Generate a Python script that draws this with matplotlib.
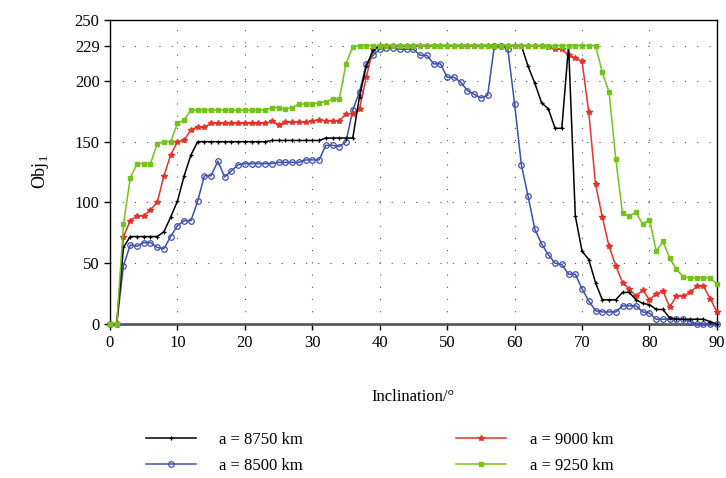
import numpy as np
import matplotlib
matplotlib.use("Agg")
from matplotlib import pyplot as plt

plt.rcParams["font.family"] = ["Liberation Serif", "DejaVu Serif"]
plt.rcParams["font.size"] = 12

incl = list(range(0, 91))

# a = 8750 km
obj_8750 = [0, 0, 63, 72, 72, 72, 72, 72, 76, 88,
            101, 122, 139, 150, 150, 150, 150, 150, 150, 150,
            150, 150, 150, 150, 151, 151, 151, 151, 151, 151,
            151, 151, 153, 153, 153, 153, 153, 187, 212, 225,
            229, 229, 229, 229, 229, 229, 229, 229, 229, 229,
            229, 229, 229, 229, 229, 229, 229, 229, 229, 229,
            229, 229, 212, 198, 182, 177, 161, 161, 229, 89,
            60, 53, 34, 20, 20, 20, 26, 26, 20, 17,
            16, 12, 12, 5, 4, 4, 4, 4, 4, 2,
            0]
# a = 8500 km
obj_8500 = [0, 0, 48, 65, 64, 67, 67, 63, 62, 72,
            81, 85, 85, 101, 122, 122, 134, 121, 126, 131,
            132, 132, 132, 132, 132, 133, 133, 133, 133, 135,
            135, 135, 147, 147, 146, 150, 176, 191, 214, 221,
            226, 227, 227, 226, 226, 226, 221, 221, 214, 214,
            203, 203, 199, 192, 189, 186, 188, 229, 229, 226,
            181, 131, 105, 78, 66, 57, 50, 49, 41, 41,
            29, 19, 11, 10, 10, 10, 15, 15, 15, 10,
            9, 4, 4, 4, 4, 4, 2, 0, 0, 0,
            0]
# a = 9000 km
obj_9000 = [0, 0, 72, 85, 89, 89, 94, 100, 122, 139,
            150, 151, 160, 162, 162, 165, 165, 165, 165, 165,
            165, 165, 165, 165, 167, 164, 166, 166, 166, 166,
            167, 168, 167, 167, 167, 173, 173, 177, 203, 226,
            229, 229, 229, 229, 229, 229, 229, 229, 229, 229,
            229, 229, 229, 229, 229, 229, 229, 229, 229, 229,
            229, 229, 229, 229, 229, 228, 226, 226, 221, 219,
            216, 174, 115, 88, 64, 48, 34, 29, 23, 28,
            20, 25, 27, 14, 23, 23, 26, 31, 31, 21,
            10]
# a = 9250 km
obj_9250 = [0, 0, 82, 120, 132, 132, 132, 148, 150, 150,
            165, 168, 176, 176, 176, 176, 176, 176, 176, 176,
            176, 176, 176, 176, 178, 178, 177, 178, 181, 181,
            181, 182, 183, 185, 185, 214, 228, 229, 229, 229,
            229, 229, 229, 229, 229, 229, 229, 229, 229, 229,
            229, 229, 229, 229, 229, 229, 229, 229, 229, 229,
            229, 229, 229, 229, 229, 229, 229, 229, 229, 229,
            229, 229, 229, 207, 191, 136, 91, 89, 92, 82,
            86, 60, 68, 54, 45, 39, 38, 38, 38, 38,
            33]

labels = ["a = 8750 km", "a = 8500 km", "a = 9000 km", "a = 9250 km"]
yticks = [0, 50, 100, 150, 200, 229, 250]
xticks = list(range(0, 91, 10))

fig = plt.figure(figsize=(7.26, 4.78), dpi=100)
ax = fig.add_axes([0.1515, 0.322, 0.836, 0.636])

l1, = ax.plot(incl, obj_8750, color="black", marker="+", markersize=3.5, lw=1.1,
              mew=0.9, label=labels[0], zorder=4, clip_on=False)
l2, = ax.plot(incl, obj_8500, color="#3f4fae", marker="o", markersize=4, lw=1.1,
              mfc="none", mew=0.9, label=labels[1], zorder=3, clip_on=False)
l3, = ax.plot(incl, obj_9000, color="#e5332a", marker="*", markersize=4, lw=1.1,
              label=labels[2], zorder=3.5, clip_on=False)
l4, = ax.plot(incl, obj_9250, color="#74c21c", marker="s", markersize=3.2, lw=1.1,
              label=labels[3], zorder=5, clip_on=False)

ax.set_xlim(0, 90)
ax.set_ylim(0, 250)
ax.set_xticks(xticks)
ax.set_yticks(yticks)
ax.tick_params(direction="out", length=4, width=1, labelsize=12)

for v in xticks[1:-1]:
    ax.axvline(v, color="#555555", lw=0.8, ls=(0, (1, 10)), zorder=1)
for v in yticks[1:-1]:
    ax.axhline(v, color="#555555", lw=0.8, ls=(0, (1, 10)), zorder=1)

for s in ["top", "right", "left"]:
    ax.spines[s].set_color("black")
    ax.spines[s].set_linewidth(1)
ax.spines["bottom"].set_color("#5a5a5a")
ax.spines["bottom"].set_linewidth(2)

ax.set_ylabel("Obj$_{\\mathregular{1}}$", fontsize=13, labelpad=17)
ax.set_xlabel("Inclination/°", fontsize=12, labelpad=28)

fig.legend(handles=[l1, l2, l3, l4], ncol=2, frameon=False, fontsize=12,
           loc="lower left", bbox_to_anchor=(0.18, -0.022),
           handlelength=3.0, handletextpad=1.4, columnspacing=9.2,
           labelspacing=0.58)

fig.savefig("out.png", dpi=100)
